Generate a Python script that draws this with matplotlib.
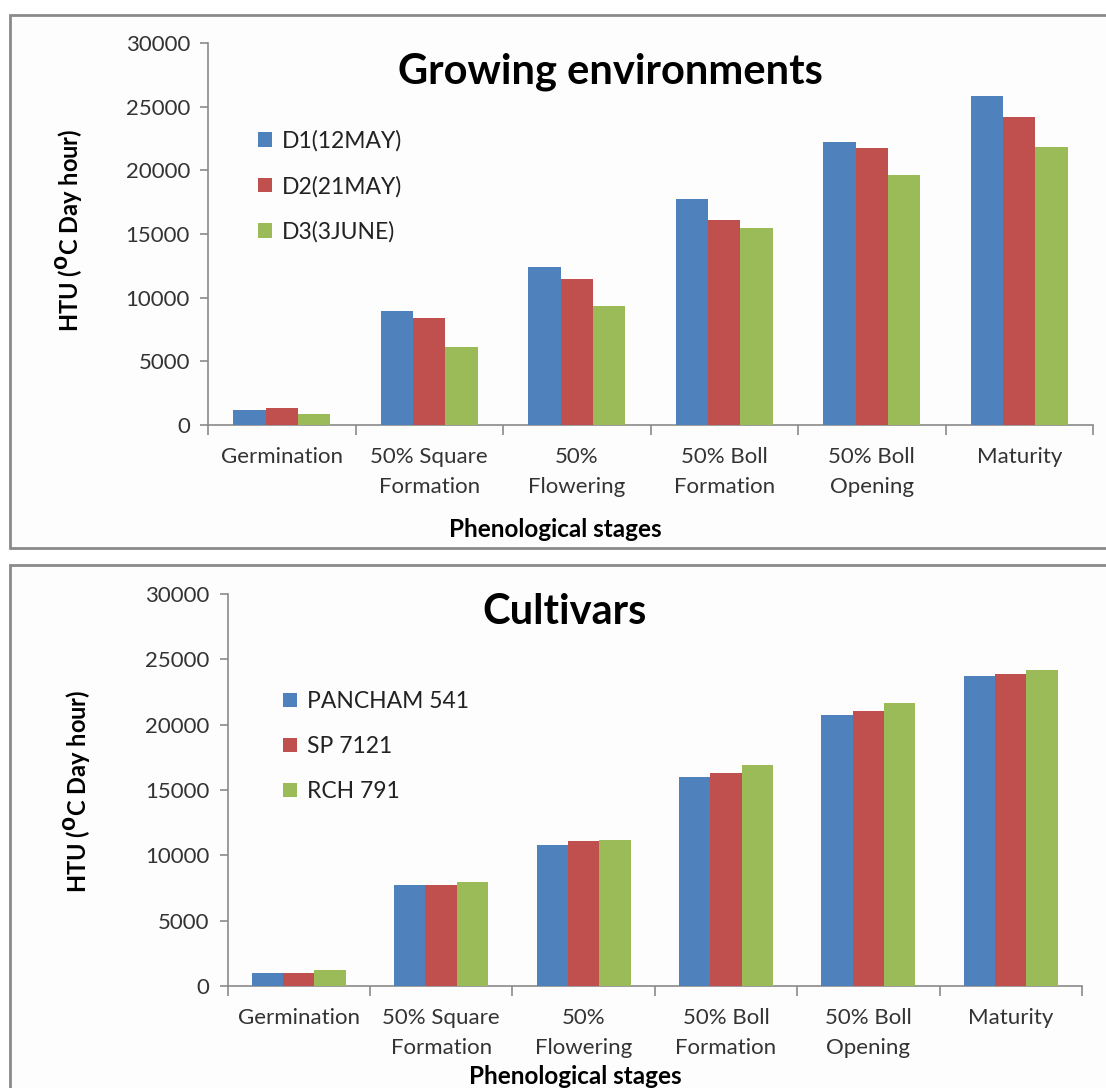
import matplotlib
matplotlib.use("Agg")
import matplotlib.pyplot as plt
from matplotlib.patches import Rectangle
import numpy as np

stages = ["Germination", "50% Square\nFormation", "50%\nFlowering",
          "50% Boll\nFormation", "50% Boll\nOpening", "Maturity"]

env_labels = ["D1(12MAY)", "D2(21MAY)", "D3(3JUNE)"]
d1 = [1150, 8980, 12410, 17730, 22250, 25810]
d2 = [1350, 8410, 11500, 16130, 21740, 24210]
d3 = [850, 6090, 9320, 15480, 19640, 21800]

cult_labels = ["PANCHAM 541", "SP 7121", "RCH 791"]
pancham = [1000, 7750, 10820, 15970, 20720, 23690]
sp7121 = [1000, 7750, 11080, 16290, 21010, 23900]
rch791 = [1260, 7930, 11160, 16910, 21620, 24160]

colors = ["#4F81BD", "#C0504D", "#9BBB59"]
yticks = [0, 5000, 10000, 15000, 20000, 25000, 30000]

plt.rcParams["font.family"] = ["Lato", "DejaVu Sans"]

W, H = 1106, 1088
fig = plt.figure(figsize=(W / 100, H / 100), dpi=100)
fig.patch.set_facecolor("white")


def px_axes(left, right, top, bottom):
    return fig.add_axes([left / W, 1 - bottom / H, (right - left) / W, (bottom - top) / H])


def panel(x0, y0, x1, y1):
    fig.add_artist(Rectangle((x0 / W, 1 - y1 / H), (x1 - x0) / W, (y1 - y0) / H,
                             transform=fig.transFigure, fill=True, facecolor="#fdfdfd",
                             edgecolor="#8a8a8a", linewidth=2, zorder=-10))


def draw(ax, series, labels, title, title_xy, leg_xy, ylab_xy, xlab_xy):
    x = np.arange(len(stages))
    w = 0.22
    for i, (vals, lab, c) in enumerate(zip(series, labels, colors)):
        ax.bar(x + (i - 1) * w, vals, width=w, color=c, label=lab, zorder=3)
    ax.set_xlim(-0.5, len(stages) - 0.5)
    ax.set_ylim(0, 30000)
    ax.set_yticks(yticks)
    ax.set_yticklabels([str(v) for v in yticks], fontsize=16, color="#333333")
    ax.set_xticks(x)
    ax.set_xticklabels(stages, fontsize=16, color="#333333", linespacing=1.6)
    ax.set_xticks(np.arange(-0.5, len(stages), 1.0), minor=True)
    ax.tick_params(axis="x", which="major", length=0, pad=16)
    ax.tick_params(axis="x", which="minor", length=7, width=1.2, color="#8a8a8a", direction="out")
    ax.tick_params(axis="y", length=6, width=1.2, color="#8a8a8a", direction="out", pad=7)
    for s in ["top", "right"]:
        ax.spines[s].set_visible(False)
    for s in ["left", "bottom"]:
        ax.spines[s].set_color("#8a8a8a")
        ax.spines[s].set_linewidth(1.2)
    ax.set_facecolor("none")
    fig.text(title_xy[0] / W, 1 - title_xy[1] / H, title, fontsize=30, fontweight="bold",
             ha="center", va="center")
    fig.text(ylab_xy[0] / W, 1 - ylab_xy[1] / H, r"HTU ($^{\mathbf{O}}$C Day hour)",
             fontsize=17, fontweight="bold", rotation=90, ha="center", va="center")
    fig.text(xlab_xy[0] / W, 1 - xlab_xy[1] / H, "Phenological stages", fontsize=17.5,
             fontweight="bold", ha="center", va="center")
    leg = ax.legend(loc="upper left", bbox_to_anchor=(leg_xy[0] / W, 1 - leg_xy[1] / H),
                    bbox_transform=fig.transFigure, frameon=False, fontsize=16.5,
                    handlelength=0.6, handleheight=0.6, handletextpad=0.45,
                    labelspacing=1.05, borderpad=0, borderaxespad=0)
    for t in leg.get_texts():
        t.set_color("#222222")


panel(10, 15, 1120, 548)
panel(10, 565, 1120, 1100)

ax1 = px_axes(208, 1093, 43, 425)
draw(ax1, [d1, d2, d3], env_labels, "Growing environments", (610, 72),
     (258, 130), (70, 230), (555, 530))

ax2 = px_axes(227.5, 1082, 594, 986)
draw(ax2, [pancham, sp7121, rch791], cult_labels, "Cultivars", (565, 612),
     (283, 691), (78, 791), (575, 1076))

fig.savefig("out.png", dpi=100, facecolor="white")
